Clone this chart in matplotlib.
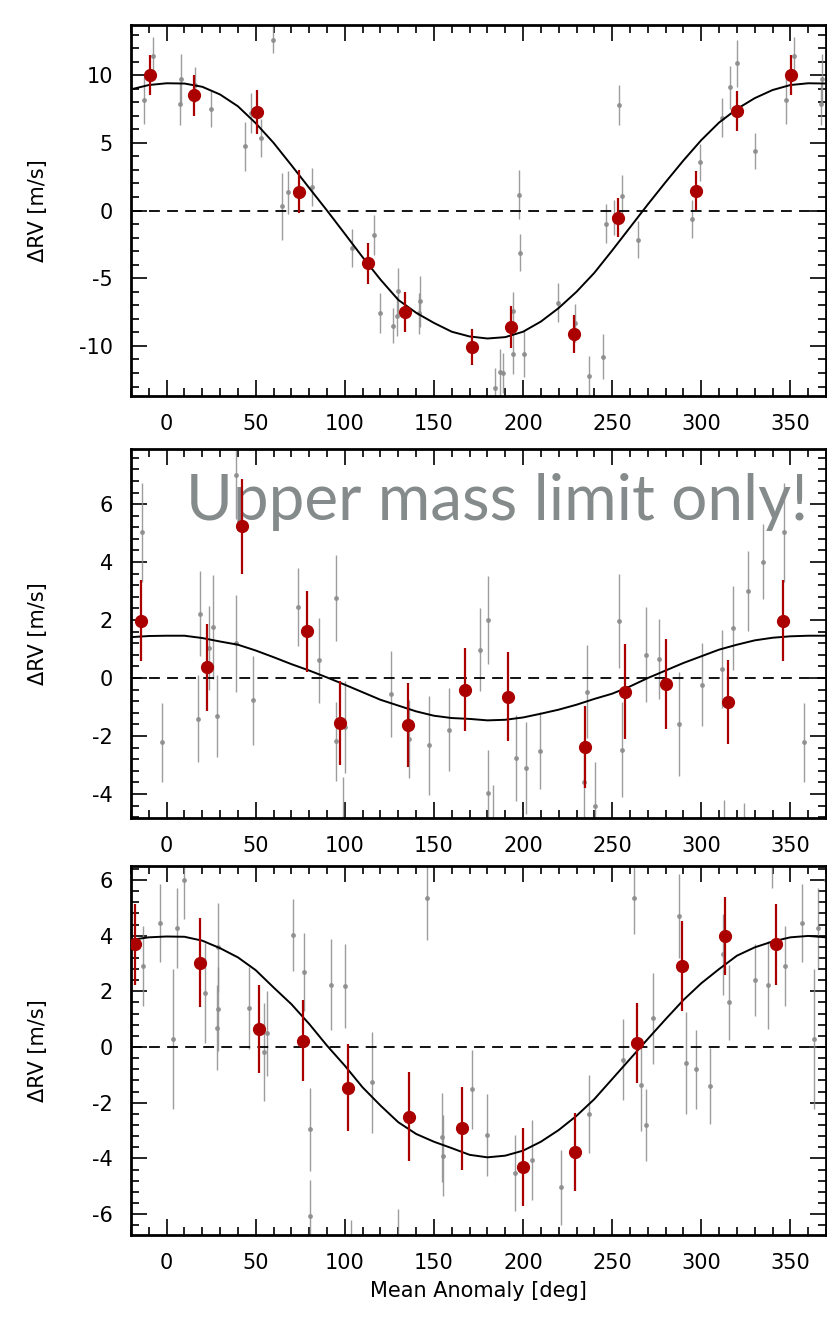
import numpy as np
import matplotlib
matplotlib.use("Agg")
import matplotlib.pyplot as plt
from matplotlib.ticker import MultipleLocator

plt.rcParams['font.family'] = ['DejaVu Sans']
plt.rcParams['axes.unicode_minus'] = False

# x range shared by all panels (mean anomaly, deg)
x_min, x_max = -20, 370

# model curve, read every 10 deg from -20 to 370
curve_phase = list(range(-20, 371, 10))
curve_top = [8.95, 9.27, 9.4, 9.38, 9.14, 8.57, 7.7, 6.45, 5.0, 3.35, 1.67, 0.0,
             -1.72, -3.45, -5.1, -6.6, -7.55, -8.3, -8.95, -9.3, -9.45, -9.35,
             -8.95, -8.2, -7.2, -6.0, -4.6, -2.95, -1.25, 0.45, 2.1, 3.7, 5.2,
             6.5, 7.5, 8.3, 8.9, 9.27, 9.4, 9.38]
curve_mid = [1.41, 1.45, 1.46, 1.46, 1.38, 1.26, 1.15, 0.95, 0.72, 0.48, 0.26, 0.02,
             -0.23, -0.49, -0.75, -0.95, -1.15, -1.3, -1.38, -1.41, -1.46, -1.44,
             -1.36, -1.23, -1.09, -0.92, -0.72, -0.54, -0.29, 0.0, 0.26, 0.52, 0.75,
             0.98, 1.15, 1.3, 1.39, 1.44, 1.46, 1.46]
curve_bot = [3.85, 3.94, 3.97, 3.96, 3.82, 3.55, 3.22, 2.76, 2.14, 1.54, 0.83, 0.05,
             -0.67, -1.45, -2.1, -2.7, -3.12, -3.4, -3.63, -3.87, -3.96, -3.9,
             -3.72, -3.4, -2.98, -2.47, -1.87, -1.15, -0.43, 0.29, 1.0, 1.69, 2.29,
             2.8, 3.28, 3.58, 3.79, 3.94, 3.99, 3.94]

# binned points (red), phase 0-360
red_top_phase = [15.5, 50.7, 74.4, 113.0, 133.6, 171.3, 193.1, 228.5, 253.2, 297.2, 320.0, 350.5]
red_top_rv = [8.5, 7.27, 1.4, -3.9, -7.5, -10.07, -8.6, -9.14, -0.54, 1.48, 7.36, 10.0]
red_top_err = [1.5, 1.6, 1.6, 1.5, 1.5, 1.35, 1.55, 1.4, 1.43, 1.45, 1.5, 1.5]

red_mid_phase = [22.6, 42.2, 78.9, 97.0, 135.4, 167.2, 191.6, 234.9, 257.3, 280.4, 315.2, 345.8]
red_mid_rv = [0.38, 5.23, 1.62, -1.55, -1.63, -0.4, -0.64, -2.38, -0.47, -0.2, -0.84, 1.98]
red_mid_err = [1.5, 1.63, 1.4, 1.45, 1.45, 1.43, 1.53, 1.42, 1.65, 1.55, 1.45, 1.4]

red_bot_phase = [18.5, 51.9, 76.3, 102.0, 135.8, 165.7, 200.0, 228.9, 263.8, 289.2, 313.4, 342.1]
red_bot_rv = [3.03, 0.65, 0.23, -1.46, -2.5, -2.92, -4.31, -3.77, 0.14, 2.91, 4.0, 3.69]
red_bot_err = [1.6, 1.59, 1.46, 1.57, 1.6, 1.5, 1.4, 1.39, 1.44, 1.63, 1.4, 1.45]

# individual measurements (grey), phase 0-360
grey_top_phase = [7.8, 7.4, 15.8, 24.8, 44.0, 47.6, 53.0, 59.7, 64.7, 67.9, 81.7, 104.0,
                  116.2, 119.8, 127.0, 129.7, 129.3, 142.2, 141.8, 184.3, 186.8, 189.0,
                  194.6, 194.6, 197.8, 198.3, 200.8, 219.8, 229.0, 236.8, 245.0, 246.5,
                  250.8, 253.7, 255.8, 264.7, 295.0, 299.2, 311.6, 315.9, 320.0, 329.9,
                  347.5, 352.3]
grey_top_rv = [9.75, 7.9, 9.3, 7.5, 4.73, 7.2, 5.37, 12.6, 0.3, 1.35, 1.77, -2.76,
               -1.8, -7.56, -8.5, -5.96, -7.8, -6.7, -7.6, -13.1, -11.9, -12.0,
               -7.44, -10.6, 1.18, -3.1, -10.6, -6.8, -8.3, -12.2, -10.8, -0.96,
               -0.5, 7.8, 1.1, -2.14, -0.6, 3.55, 6.87, 9.1, 10.86, 4.43,
               8.13, 11.4]
grey_top_err = [1.8, 1.6, 1.3, 1.35, 1.8, 1.5, 1.4, 1.0, 2.5, 1.6, 1.4, 1.4,
                1.45, 1.48, 1.3, 1.7, 1.5, 1.9, 1.5, 1.5, 1.7, 1.5,
                1.4, 1.45, 1.8, 1.4, 1.7, 1.45, 1.4, 1.45, 1.65, 1.45,
                1.3, 1.45, 1.5, 1.4, 1.4, 1.4, 1.44, 1.6, 1.7, 1.33,
                1.75, 1.4]

grey_mid_phase = [346.2, 357.5, 17.5, 19.0, 23.7, 25.9, 28.0, 39.2, 38.8, 48.5, 73.5, 85.4,
                  95.3, 94.9, 100.0, 98.9, 125.9, 136.0, 147.4, 158.4, 175.7, 180.4,
                  180.4, 183.0, 196.0, 201.9, 209.5, 234.0, 236.1, 240.3, 253.9, 255.8,
                  269.2, 276.5, 287.3, 300.4, 311.8, 313.0, 318.0, 323.9, 326.0, 334.5]
grey_mid_rv = [5.03, -2.22, -1.4, 2.22, 1.03, 1.76, -1.3, 1.2, 7.0, -0.77, 2.45, 0.61,
               2.76, -2.18, -1.69, -5.0, -0.55, -2.1, -2.32, -1.78, 0.98, 2.0,
               -3.97, -5.2, -2.77, -3.1, -2.5, -3.6, -0.47, -4.4, 1.97, -2.48,
               0.8, 0.64, -1.59, -0.23, 0.31, -5.2, 1.72, -5.3, 3.0, 4.02]
grey_mid_err = [1.7, 1.35, 1.5, 1.47, 1.45, 1.8, 1.42, 1.67, 1.5, 1.53, 1.34, 1.46,
                1.48, 1.37, 1.58, 1.6, 1.47, 1.35, 1.7, 1.44, 1.42, 1.53,
                1.5, 1.5, 1.48, 1.6, 1.34, 1.5, 1.6, 1.5, 1.63, 1.64,
                1.64, 1.38, 1.8, 1.44, 1.34, 1.0, 1.44, 1.0, 1.39, 1.3]

grey_bot_phase = [346.8, 356.3, 3.5, 5.6, 9.9, 21.5, 28.0, 29.0, 29.0, 46.1, 54.5, 56.2,
                  70.9, 76.9, 80.4, 80.4, 92.0, 100.2, 103.5, 115.5, 129.9, 146.1,
                  154.3, 154.9, 171.3, 179.9, 195.7, 204.9, 221.5, 237.0, 256.2, 262.1,
                  266.2, 269.2, 272.9, 287.5, 291.2, 296.8, 305.0, 312.1, 315.3, 329.9,
                  337.5, 339.6]
grey_bot_rv = [2.9, 4.44, 0.29, 4.27, 6.0, 1.94, 0.7, 3.58, 1.36, 1.4, -0.17, 0.49,
               4.02, 2.7, -2.96, -6.06, 2.24, 2.2, -7.2, -1.27, -7.0, 5.34,
               -3.24, -3.9, -1.52, -3.15, -4.52, -4.05, -5.04, -2.4, -0.45, 5.37,
               -1.35, -2.79, 1.03, 4.7, -0.57, -0.8, -1.39, 3.33, 1.6, 2.4,
               2.24, 7.1]
grey_bot_err = [1.43, 1.4, 2.5, 1.44, 1.4, 1.8, 1.53, 1.6, 1.5, 1.47, 1.76, 1.53,
                1.3, 1.4, 1.5, 1.3, 1.64, 1.5, 1.0, 1.8, 1.2, 1.5,
                1.6, 1.45, 1.42, 1.47, 1.35, 1.44, 1.36, 1.4, 1.45, 1.3,
                1.65, 1.3, 1.63, 1.5, 1.82, 1.42, 1.36, 1.45, 1.36, 1.3,
                1.58, 1.4]

ylims = [(-13.7, 13.7), (-4.83, 7.9), (-6.75, 6.51)]
y_major = [5, 2, 2]
y_minor = [1, 0.4, 0.4]

RED = '#aa0000'
GREY = '#8c8c8c'


def wrap(phase, rv, err):
    # repeat the points that fall into the extra -20..0 and 360..370 range
    p = np.array(phase); v = np.array(rv); e = np.array(err)
    lo = p - 360 >= x_min
    hi = p + 360 <= x_max
    return (np.concatenate([p, p[lo] - 360, p[hi] + 360]),
            np.concatenate([v, v[lo], v[hi]]),
            np.concatenate([e, e[lo], e[hi]]))


fig = plt.figure(figsize=(8.27, 13.25), dpi=100)
boxes = [[0.1584, 0.7011, 0.8404, 0.2800],
         [0.1584, 0.3826, 0.8404, 0.2785],
         [0.1584, 0.0679, 0.8404, 0.2787]]

panels = [
    (curve_top, red_top_phase, red_top_rv, red_top_err, grey_top_phase, grey_top_rv, grey_top_err),
    (curve_mid, red_mid_phase, red_mid_rv, red_mid_err, grey_mid_phase, grey_mid_rv, grey_mid_err),
    (curve_bot, red_bot_phase, red_bot_rv, red_bot_err, grey_bot_phase, grey_bot_rv, grey_bot_err),
]

for i, (curve, rp, rv, re, gp, gv, ge) in enumerate(panels):
    ax = fig.add_axes(boxes[i])
    gx, gy, gerr = wrap(gp, gv, ge)
    ax.errorbar(gx, gy, yerr=gerr, fmt='o', ms=2.5, color=GREY, ecolor=GREY,
                elinewidth=1.0, capsize=0, alpha=0.85, zorder=2)
    ax.axhline(0, color='black', ls=(0, (6, 4)), lw=1.3, zorder=3)
    ax.plot(curve_phase, curve, color='black', lw=1.4, zorder=4)
    rx, ry, rerr = wrap(rp, rv, re)
    ax.errorbar(rx, ry, yerr=rerr, fmt='o', ms=8.5, color=RED, ecolor=RED,
                elinewidth=1.6, capsize=0, zorder=5)

    ax.set_xlim(x_min, x_max)
    ax.set_ylim(*ylims[i])
    ax.xaxis.set_major_locator(MultipleLocator(50))
    ax.xaxis.set_minor_locator(MultipleLocator(10))
    ax.yaxis.set_major_locator(MultipleLocator(y_major[i]))
    ax.yaxis.set_minor_locator(MultipleLocator(y_minor[i]))
    ax.tick_params(which='both', direction='in', top=True, right=True,
                   labelsize=15, pad=13, width=1.2)
    ax.tick_params(which='major', length=11.5)
    ax.tick_params(which='minor', length=5.5)
    for s in ax.spines.values():
        s.set_linewidth(2)
    ax.set_ylabel('ΔRV [m/s]', fontsize=15)
    ax.yaxis.set_label_coords(-0.12, 0.5)

    if i == 1:
        ax.text(0.527, 0.8076, 'Upper mass limit only!', transform=ax.transAxes,
                ha='center', va='baseline', fontsize=46, color='#858a8a',
                family=['Lato', 'DejaVu Sans'], zorder=1)
    if i == 2:
        ax.set_xlabel('Mean Anomaly [deg]', fontsize=15, labelpad=6)

fig.savefig('out.png', dpi=100)
